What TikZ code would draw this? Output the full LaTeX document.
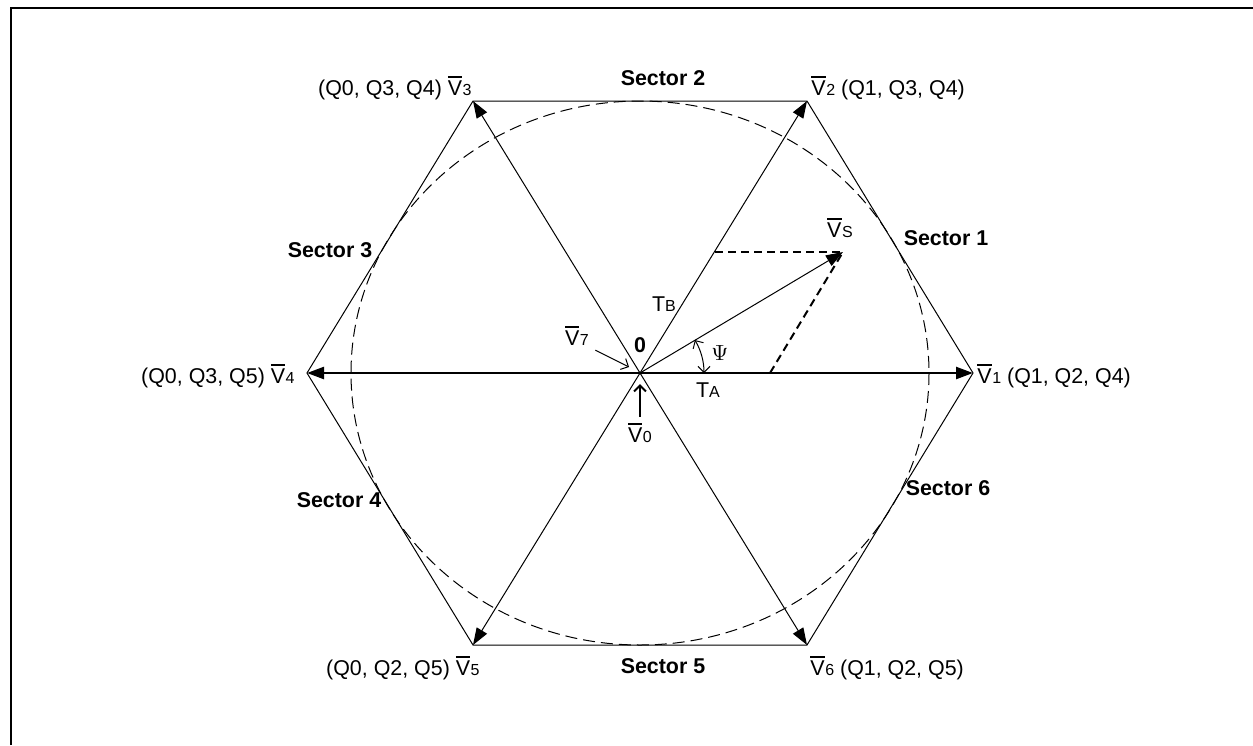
\documentclass[tikz,border=0pt]{standalone}
\usepackage{fontspec}
\setmainfont{Liberation Sans}
\usetikzlibrary{arrows.meta}
\newcommand{\vbar}{\leavevmode\vbox{\hrule height 0.9pt\kern1.5pt\hbox{V}}}
\newcommand{\vsub}[1]{\vbar\kern0.3pt{\fontsize{8}{8}\selectfont #1}}
\newcommand{\tsub}[1]{T{\fontsize{8}{8}\selectfont #1}}
\begin{document}
\begin{tikzpicture}[x=0.5pt, y=-0.5pt,
    every node/.style={font=\fontsize{10.7}{12}\selectfont, inner sep=1pt},
    sector/.style={font=\fontsize{10.7}{12}\selectfont\bfseries},
    hexline/.style={line width=0.5pt},
    spoke/.style={line width=0.5pt, -{Triangle[length=8.5pt,width=6pt]}},
    axisline/.style={line width=1.2pt,
      {Triangle[length=8.5pt,width=6pt]}-{Triangle[length=8.5pt,width=6pt]}},
    guide/.style={line width=0.5pt, dash pattern=on 6pt off 3pt},
    proj/.style={line width=1pt, dash pattern=on 4pt off 2.5pt},
    pointer/.style={-{Straight Barb[length=3pt,width=6pt]}}]
  \useasboundingbox (0,0) rectangle (1253,745);
  \draw[line width=1pt] (11,745) -- (11,8) -- (1253,8);

  % hexagon corners
  \coordinate (O)  at (640,373);
  \coordinate (v1) at (973,373);
  \coordinate (v2) at (807,101);
  \coordinate (v3) at (473,101);
  \coordinate (v4) at (307,373);
  \coordinate (v5) at (473,645);
  \coordinate (v6) at (807,645);

  \draw[hexline] (v1) -- (v2) -- (v3) -- (v4) -- (v5) -- (v6) -- cycle;
  \draw[guide] (O) ellipse [x radius=289, y radius=272];

  \draw[axisline] (v4) -- (v1);
  \foreach \v in {v2,v3,v5,v6}
    \draw[spoke] (O) -- (\v);

  % reference vector and its parts
  \coordinate (vs) at (843,252);
  \coordinate (tb) at (715,252);
  \coordinate (ta) at (770,373);
  \draw[spoke] (O) -- (vs);
  \draw[proj] (tb) -- (vs);
  \draw[proj] (ta) -- (vs);
  \draw[line width=0.5pt, {Straight Barb[length=3pt,width=6pt]}-{Straight Barb[length=3pt,width=6pt]}]
    (704,373) arc[start angle=0, end angle=-31, radius=64];

  \node[anchor=west] (l1) at (975,376) {\vsub{1} (Q1, Q2, Q4)};
  \node[anchor=west] (l2) at (809,88)  {\vsub{2} (Q1, Q3, Q4)};
  \node[anchor=east] (l3) at (474,88)  {(Q0, Q3, Q4) \vsub{3}};
  \node[anchor=east] (l4) at (297,376) {(Q0, Q3, Q5) \vsub{4}};
  \node[anchor=east] (l5) at (482,668) {(Q0, Q2, Q5) \vsub{5}};
  \node[anchor=west] (l6) at (808,668) {\vsub{6} (Q1, Q2, Q5)};

  \node[sector] (s1) at (946,238) {Sector 1};
  \node[sector] (s2) at (663,78)  {Sector 2};
  \node[sector] (s3) at (330,250) {Sector 3};
  \node[sector] (s4) at (339,500) {Sector 4};
  \node[sector] (s5) at (663,666) {Sector 5};
  \node[sector] (s6) at (948,488) {Sector 6};

  \node[sector] (zero) at (640,345) {0};
  \node (lvs) at (840,228) {\vsub{S}};
  \node (ltb) at (664,304) {\tsub{B}};
  \node (lta) at (708,390) {\tsub{A}};
  \node (psi) at (720,353) {$\Psi$};

  \node (l7) at (577,336) {\vsub{7}};
  \coordinate (p7) at (629,367);
  \draw[pointer, line width=0.5pt] (l7.south east) ++(4,2) -- (p7);
  \node (l0) at (640,433) {\vsub{0}};
  \draw[pointer, line width=1pt] (l0.north) ++(0,-4) -- (640,384);
\end{tikzpicture}
\end{document}
